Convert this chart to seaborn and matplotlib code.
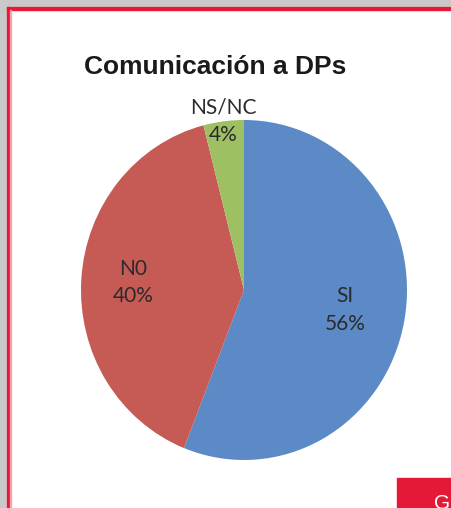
import matplotlib.pyplot as plt
import seaborn as sns
from matplotlib.patches import Rectangle
import numpy as np

# Pie chart - Comunicación a DPs
categories = ["SI", "N0", "NS/NC"]
values = [56, 40, 4]
colors = ["#5B8AC6", "#C65A55", "#9FBF63"]

sns.set_style("white")
plt.rcParams['font.family'] = ['Lato', 'DejaVu Sans']

W, H = 452, 508
fig = plt.figure(figsize=(W / 100, H / 100), dpi=100)

# frame: gray shadow, white card, red border
fig.patches.append(Rectangle((0, 0), 1, 1, transform=fig.transFigure, color="#c9c9c9", zorder=0))
fig.patches.append(Rectangle((7 / W, 0), 1, 1 - 7 / H, transform=fig.transFigure, color="white", zorder=1))
fig.patches.append(Rectangle((7 / W, 0), 2.5 / W, 1 - 7 / H, transform=fig.transFigure, color="#E31937", zorder=2))
fig.patches.append(Rectangle((7 / W, 1 - 10 / H), 1, 3 / H, transform=fig.transFigure, color="#E31937", zorder=2))
fig.patches.append(Rectangle((9.5 / W, 0), 1.5 / W, 1 - 10 / H, transform=fig.transFigure, color="#f7a3ae", zorder=2))
# red tab bottom right
fig.patches.append(Rectangle((397 / W, 0), 1, 30 / H, transform=fig.transFigure, color="#E31937", zorder=2))
fig.text(434 / W, 1 - 494 / H, "G", color="white", fontsize=15, va="top", ha="left",
         family=["Liberation Sans", "DejaVu Sans"], zorder=3)

fig.text(215 / W, 1 - 67 / H, "Comunicación a DPs", fontsize=19, fontweight="bold",
         ha="center", va="center", color="#1a1a1a",
         family=["Liberation Sans Narrow", "Liberation Sans", "DejaVu Sans"])

# pie axes: ellipse rx=163, ry=170 centred at (244, 290)
rx, ry, cx, cy = 163, 170, 244, 290
top = 0.985
ax = fig.add_axes([(cx - rx) / W, 1 - (cy + ry) / H, 2 * rx / W, ry * (1 + top) / H])
ax.set_zorder(3)
wedges, _ = ax.pie(values, colors=colors, startangle=90, counterclock=False,
                   wedgeprops=dict(linewidth=0))
ax.set_aspect("auto")
ax.set_xlim(-1, 1)
ax.set_ylim(-1, top)
ax.axis("off")

label_dist = [0.63, 0.68, 1.0]
for w, cat, val, d in zip(wedges, categories, values, label_dist):
    ang = np.deg2rad((w.theta1 + w.theta2) / 2)
    ax.text(d * np.cos(ang), d * np.sin(ang), f"{cat}\n{val}%", ha="center", va="center",
            fontsize=15, color="#2b2b2b", linespacing=1.45, clip_on=False)

fig.savefig("out.png", dpi=100)
